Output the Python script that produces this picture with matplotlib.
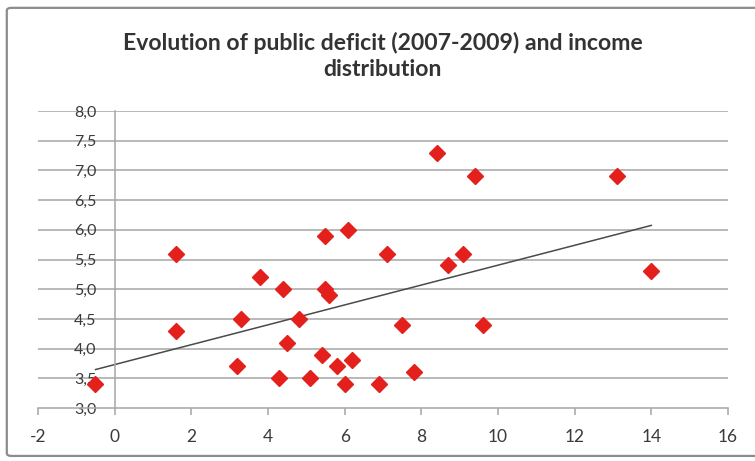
import numpy as np
import matplotlib
matplotlib.use('Agg')
import matplotlib.pyplot as plt
from matplotlib.patches import FancyBboxPatch

plt.rcParams['font.family'] = ['Lato', 'DejaVu Sans']
plt.rcParams['axes.unicode_minus'] = False

# public deficit change (x) vs income distribution (y)
deficit = [-0.5, 1.6, 1.6, 3.2, 3.3, 3.8, 4.3, 4.4, 4.5, 4.8,
           5.1, 5.4, 5.5, 5.5, 5.6, 5.8, 6.0, 6.1, 6.2, 6.9,
           7.1, 7.5, 7.8, 8.4, 8.7, 9.1, 9.4, 9.6, 13.1, 14.0]
income = [3.4, 5.6, 4.3, 3.7, 4.5, 5.2, 3.5, 5.0, 4.1, 4.5,
          3.5, 3.9, 5.9, 5.0, 4.9, 3.7, 3.4, 6.0, 3.8, 3.4,
          5.6, 4.4, 3.6, 7.3, 5.4, 5.6, 6.9, 4.4, 6.9, 5.3]

x_ticks = [-2, 0, 2, 4, 6, 8, 10, 12, 14, 16]
y_ticks = [3.0, 3.5, 4.0, 4.5, 5.0, 5.5, 6.0, 6.5, 7.0, 7.5, 8.0]
y_labels = ['3,0', '3,5', '4,0', '4,5', '5,0', '5,5', '6,0', '6,5', '7,0', '7,5', '8,0']

title = 'Evolution of public deficit (2007-2009) and income\ndistribution'

txt = '#3a3a3a'
grid = '#a6a6a6'

fig = plt.figure(figsize=(7.55, 4.61), dpi=100)
# chart frame, right side runs off the picture
fig.patches.append(FancyBboxPatch((0.009, 0.011), 1.05, 0.972, boxstyle='round,pad=0,rounding_size=0.006',
                                  transform=fig.transFigure, fc='none', ec='#8c8c8c', lw=1.6))
ax = fig.add_axes([0.0503, 0.115, 0.9139, 0.644])

ax.set_xlim(-2, 16)
ax.set_ylim(3, 8)

# horizontal gridlines
for y in y_ticks[1:]:
    ax.axhline(y, color=grid, lw=1.1, zorder=1)

for s in ['top', 'right']:
    ax.spines[s].set_visible(False)
ax.spines['left'].set_position(('data', 0))
ax.spines['left'].set_color(grid)
ax.spines['bottom'].set_color(grid)
ax.spines['left'].set_linewidth(1.1)
ax.spines['bottom'].set_linewidth(1.1)

ax.set_xticks(x_ticks)
ax.set_yticks(y_ticks)
ax.set_yticklabels(y_labels)
ax.tick_params(axis='y', length=0, pad=13, labelsize=11.5, labelcolor=txt)
ax.tick_params(axis='x', length=5, width=1.1, color=grid, direction='out', pad=10, labelsize=12.5, labelcolor=txt)

ax.plot(deficit, income, linestyle='none', marker='D', ms=8.5, color='#e3201b', zorder=3, clip_on=False)

# linear trend line
slope, icpt = np.polyfit(deficit, income, 1)
xs = np.array([min(deficit), max(deficit)])
ax.plot(xs, slope * xs + icpt, color='#4a4a4a', lw=1.1, zorder=2)

fig.text(0.507, 0.878, title, ha='center', va='center', fontsize=16.6, fontweight='bold',
         color='#333333', linespacing=1.3)

fig.savefig('out.png', dpi=100)
